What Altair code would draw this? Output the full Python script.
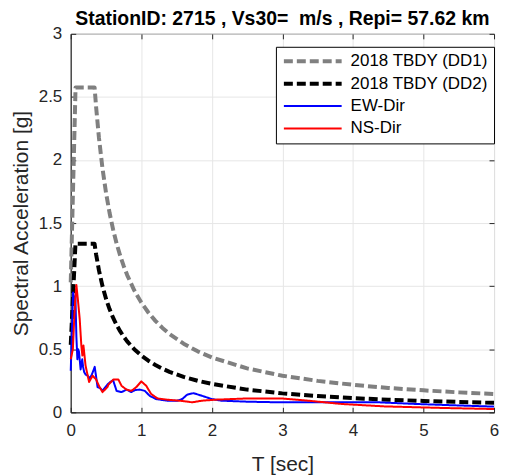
import altair as alt
import pandas as pd

# Design spectra (TBDY 2018)
dd1_T = [0, 0.068, 0.338, 0.36, 0.4, 0.45, 0.5, 0.55, 0.6, 0.65, 0.7, 0.75, 0.8, 0.9, 1.0,
         1.1, 1.2, 1.3, 1.4, 1.6, 1.8, 2.0, 2.5, 3.0, 3.5, 4.0, 4.5, 5.0, 5.5, 6.0]
dd1_Sa = [1.03, 2.575, 2.575, 2.417, 2.175, 1.933, 1.74, 1.582, 1.45, 1.338, 1.243, 1.16, 1.088, 0.967, 0.87,
          0.791, 0.725, 0.669, 0.621, 0.544, 0.483, 0.435, 0.348, 0.29, 0.249, 0.218, 0.193, 0.174, 0.158, 0.145]

dd2_T = [0, 0.067, 0.337, 0.36, 0.4, 0.45, 0.5, 0.55, 0.6, 0.65, 0.7, 0.75, 0.8, 0.9, 1.0,
         1.1, 1.2, 1.3, 1.4, 1.6, 1.8, 2.0, 2.5, 3.0, 3.5, 4.0, 4.5, 5.0, 5.5, 6.0]
dd2_Sa = [0.535, 1.337, 1.337, 1.25, 1.125, 1.0, 0.9, 0.818, 0.75, 0.692, 0.643, 0.6, 0.5625, 0.5, 0.45,
          0.409, 0.375, 0.346, 0.321, 0.281, 0.25, 0.225, 0.18, 0.15, 0.129, 0.1125, 0.1, 0.09, 0.082, 0.075]

# Recorded spectra
ew_T = [0, 0.02, 0.033, 0.05, 0.066, 0.08, 0.094, 0.105, 0.117, 0.13, 0.14, 0.15, 0.163, 0.175, 0.19,
        0.21, 0.24, 0.27, 0.30, 0.34, 0.36, 0.38, 0.42, 0.45, 0.52, 0.56, 0.6, 0.65, 0.72, 0.79, 0.86,
        0.91, 0.98, 1.05, 1.12, 1.21, 1.37, 1.51, 1.58, 1.65, 1.74, 1.86, 2.0, 2.14, 2.51, 2.98, 3.37,
        3.84, 4.37, 4.9, 5.3, 6.0]
ew_Sa = [0.33, 0.7, 0.95, 0.9, 0.92, 0.6, 0.42, 0.5, 0.48, 0.4, 0.34, 0.38, 0.42, 0.36, 0.32,
         0.3, 0.29, 0.27, 0.3, 0.36, 0.28, 0.2, 0.19, 0.17, 0.22, 0.24, 0.255, 0.17, 0.16, 0.18, 0.16,
         0.176, 0.18, 0.17, 0.13, 0.105, 0.092, 0.092, 0.105, 0.14, 0.152, 0.131, 0.105, 0.092, 0.084, 0.079, 0.079,
         0.079, 0.079, 0.066, 0.058, 0.045]

ns_T = [0, 0.03, 0.05, 0.065, 0.08, 0.1, 0.127, 0.15, 0.165, 0.18, 0.21, 0.26, 0.31, 0.36, 0.4,
        0.45, 0.52, 0.535, 0.605, 0.675, 0.72, 0.79, 0.86, 0.93, 1.0, 1.07, 1.14, 1.23, 1.37, 1.54,
        1.65, 1.72, 1.86, 2.05, 2.51, 2.98, 3.37, 3.84, 4.44, 5.3, 6.0]
ns_Sa = [0.42, 0.5, 0.75, 0.9, 1.01, 0.9, 0.74, 0.53, 0.45, 0.53, 0.37, 0.24, 0.29, 0.26, 0.21,
         0.16, 0.2, 0.22, 0.26, 0.26, 0.21, 0.18, 0.17, 0.2, 0.245, 0.21, 0.145, 0.11, 0.1, 0.092,
         0.085, 0.079, 0.092, 0.1, 0.11, 0.11, 0.092, 0.066, 0.047, 0.034, 0.026]

x_ticks = [0, 1, 2, 3, 4, 5, 6]
y_ticks = [0, 0.5, 1, 1.5, 2, 2.5, 3]

series_names = ["2018 TBDY (DD1)", "2018 TBDY (DD2)", "EW-Dir", "NS-Dir"]
series_colors = ["#808080", "#000000", "#0000FF", "#FF0000"]
series_dash = [[9, 4], [9, 4], [1, 0], [1, 0]]
series_width = [4, 4, 2, 2]

rows = []
for name, Ts, Ss in zip(series_names, [dd1_T, dd2_T, ew_T, ns_T], [dd1_Sa, dd2_Sa, ew_Sa, ns_Sa]):
    for i, (t, s) in enumerate(zip(Ts, Ss)):
        rows.append({"series": name, "T": t, "Sa": s, "i": i})
df = pd.DataFrame(rows)

FONT = "Liberation Sans"
xs = alt.Scale(domain=[0, 6], nice=False)
ys = alt.Scale(domain=[0, 3], nice=False)

lines = alt.Chart(df).mark_line(strokeCap="butt", strokeJoin="round").encode(
    x=alt.X("T:Q", scale=xs,
            axis=alt.Axis(title="T [sec]", values=x_ticks, format="d", orient="bottom", labelFlush=False,
                          labelPadding=10, titlePadding=15, ticks=False, grid=True)),
    y=alt.Y("Sa:Q", scale=ys,
            axis=alt.Axis(title="Spectral Acceleration [g]", values=y_ticks, orient="left", labelFlush=False,
                          format=".1~f", labelPadding=9, titlePadding=7, ticks=False, grid=True)),
    color=alt.Color("series:N", scale=alt.Scale(domain=series_names, range=series_colors),
                    legend=alt.Legend(title=None, orient="none", legendX=206, legendY=13)),
    strokeDash=alt.StrokeDash("series:N", scale=alt.Scale(domain=series_names, range=series_dash)),
    strokeWidth=alt.StrokeWidth("series:N", scale=alt.Scale(type="ordinal", domain=series_names,
                                                            range=series_width)),
    order=alt.Order("i:Q"),
)


def tick_axis(orient, vals):
    return alt.Axis(orient=orient, offset=-5, tickSize=5, ticks=True, labels=False, domain=False,
                    grid=False, title=None, tickColor="#262626", tickWidth=1, values=vals)


ticks_a = alt.Chart(df).mark_point(opacity=0).encode(
    x=alt.X("T:Q", scale=xs, axis=tick_axis("bottom", x_ticks)),
    y=alt.Y("Sa:Q", scale=ys, axis=tick_axis("left", y_ticks)),
)

ticks_b = alt.Chart(df).mark_point(opacity=0).encode(
    x=alt.X("T:Q", scale=xs, axis=tick_axis("top", x_ticks)),
    y=alt.Y("Sa:Q", scale=ys, axis=tick_axis("right", y_ticks)),
)

chart = alt.layer(lines, ticks_a, ticks_b).resolve_axis(x="independent", y="independent").properties(
    width=425, height=380,
    title=alt.Title("StationID: 2715 , Vs30=\u00a0 m/s , Repi= 57.62 km", fontSize=19.5, fontWeight="bold",
                    font=FONT, color="#000000", anchor="middle", offset=-5),
    padding={"left": 63, "top": 25, "right": 6, "bottom": 62},
    autosize=alt.AutoSizeParams(type="none"),
).configure_view(
    stroke="#000000", strokeWidth=1
).configure_axis(
    labelFont=FONT, titleFont=FONT, labelFontSize=17, titleFontSize=21,
    labelColor="#262626", titleColor="#262626", titleFontWeight="normal",
    domainColor="#262626", gridColor="#e6e6e6", gridWidth=1,
).configure_legend(
    labelFont=FONT, labelFontSize=17, labelColor="#000000",
    symbolType="stroke", symbolSize=3364, clipHeight=17, rowPadding=4.5,
    strokeColor="#000000", fillColor="#ffffff", padding=6, cornerRadius=0,
    labelOffset=7, labelLimit=300,
)

chart.save("out.html", embed_options={"renderer": "svg", "actions": False})
